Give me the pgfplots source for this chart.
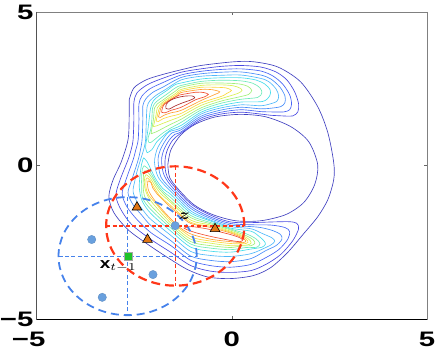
\documentclass[border=0pt]{standalone}
\usepackage{fontspec}
\setmainfont{Liberation Sans}
\usepackage{amsmath}
\usepackage{graphicx}
\usepackage{pgfplots}
\pgfplotsset{compat=1.18}

% contour colours, outer (low) to inner (high)
\definecolor{cA}{RGB}{64,64,192}
\definecolor{cB}{RGB}{72,72,224}
\definecolor{cC}{RGB}{70,100,245}
\definecolor{cD}{RGB}{70,140,250}
\definecolor{cE}{RGB}{80,185,250}
\definecolor{cF}{RGB}{70,220,235}
\definecolor{cG}{RGB}{110,235,185}
\definecolor{cH}{RGB}{160,240,120}
\definecolor{cI}{RGB}{215,240,80}
\definecolor{cJ}{RGB}{250,215,60}
\definecolor{cK}{RGB}{255,160,50}
\definecolor{cL}{RGB}{240,80,50}
\definecolor{cM}{RGB}{170,40,40}
\definecolor{dblue}{RGB}{70,130,235}
\definecolor{dred}{RGB}{255,55,25}
\definecolor{ball}{RGB}{105,160,222}
\definecolor{tri}{RGB}{225,118,20}
\definecolor{sq}{RGB}{30,195,40}

\pgfplotsset{ctr/.style={smooth,line width=0.65pt},
  xline/.style={line width=1.1pt,dash pattern=on 4pt off 2.5pt,forget plot}}
\newcommand{\tl}[1]{\scalebox{1.4}[1]{#1}}

\begin{document}
\begin{tikzpicture}
\begin{axis}[
  width=391pt,height=308pt,scale only axis,
  xmin=-5,xmax=5,ymin=-5,ymax=5,
  xtick={-5,0,5},ytick={-5,0,5},
  xticklabels={{\hspace*{-16pt}\tl{−5}},\tl{0},\tl{5}},
  yticklabels={\tl{−5},\tl{0},\tl{5}},
  ticklabel style={font=\fontsize{21}{21}\selectfont\bfseries,inner sep=0pt},
  xticklabel style={yshift=-12pt},
  yticklabel style={xshift=-3pt},
  tick align=inside,major tick length=3pt,
  tick style={black!60,line width=0.5pt},
  axis line style={black!50,line width=0.8pt},
]

% level 1: outer boundary and hole
\addplot[ctr,draw=cA] coordinates {(-2.63,2.14) (-2.51,2.53) (-2.20,2.79) (-1.82,2.95) (-1.30,3.12) (-0.79,3.26) (0.05,3.38) (0.56,3.38) (1.18,3.21) (1.76,2.73) (2.20,1.92) (2.46,1.07) (2.61,0.10) (2.61,-0.45) (2.46,-1.10) (2.20,-1.66) (1.82,-2.24) (1.43,-2.82) (1.00,-3.31) (0.56,-3.57) (-0.03,-3.67) (-0.61,-3.62) (-1.13,-3.38) (-1.64,-2.99) (-2.15,-2.56) (-2.66,-2.08) (-3.02,-1.53) (-3.15,-1.01) (-3.04,-0.45) (-2.84,0.10) (-2.66,0.84) (-2.63,1.59) (-2.63,2.14)};
\addplot[ctr,draw=cA] coordinates {(-1.64,0.03) (-1.56,0.52) (-1.30,1.01) (-0.92,1.36) (-0.41,1.59) (0.23,1.67) (0.87,1.59) (1.51,1.27) (1.97,0.78) (2.20,0.03) (2.12,-0.62) (1.84,-1.20) (1.38,-1.59) (0.74,-1.79) (0.10,-1.79) (-0.49,-1.59) (-0.97,-1.27) (-1.36,-0.78) (-1.59,-0.39) (-1.64,0.03)};

% levels 2-5: C shaped
\addplot[ctr,draw=cB] coordinates {(1.30,1.62) (1.56,1.62) (1.69,1.75) (1.71,2.01) (1.61,2.40) (1.41,2.79) (1.13,3.05) (0.74,3.21) (0.23,3.26) (-0.28,3.23) (-0.79,3.15) (-1.30,3.04) (-1.82,2.82) (-2.17,2.63) (-2.43,2.37) (-2.51,2.05) (-2.51,1.49) (-2.53,0.84) (-2.58,0.52) (-2.66,0.19) (-2.86,-0.45) (-2.97,-0.97) (-2.84,-1.43) (-2.56,-1.92) (-2.07,-2.40) (-1.56,-2.82) (-1.05,-3.25) (-0.54,-3.43) (-0.03,-3.47) (0.49,-3.41) (0.87,-3.21) (1.25,-2.89) (1.56,-2.44) (1.71,-2.05) (1.66,-1.87) (1.46,-1.82) (1.00,-1.83) (0.49,-1.85) (-0.03,-1.83) (-0.54,-1.61) (-1.05,-1.24) (-1.56,-0.55) (-1.69,-0.23) (-1.71,0.19) (-1.65,0.52) (-1.51,0.84) (-1.30,1.06) (-0.79,1.49) (-0.28,1.68) (0.23,1.74) (0.74,1.68) (1.00,1.64) (1.30,1.62)};
\addplot[ctr,draw=cC] coordinates {(1.00,1.75) (1.33,1.75) (1.48,1.82) (1.53,2.01) (1.48,2.31) (1.30,2.66) (1.05,2.92) (0.74,3.08) (0.23,3.15) (-0.28,3.13) (-0.79,3.07) (-1.30,2.95) (-1.79,2.69) (-2.10,2.50) (-2.30,2.27) (-2.38,2.01) (-2.38,1.49) (-2.40,0.84) (-2.46,0.52) (-2.53,0.19) (-2.71,-0.45) (-2.81,-0.91) (-2.69,-1.33) (-2.43,-1.75) (-2.07,-2.18) (-1.56,-2.60) (-1.05,-3.08) (-0.54,-3.25) (-0.03,-3.30) (0.49,-3.21) (0.87,-2.99) (1.20,-2.73) (1.43,-2.40) (1.48,-2.14) (1.36,-2.01) (1.00,-1.93) (0.49,-1.92) (-0.03,-1.88) (-0.54,-1.67) (-1.05,-1.32) (-1.56,-0.65) (-1.75,-0.26) (-1.80,0.19) (-1.74,0.52) (-1.60,0.84) (-1.46,1.02) (-1.30,1.10) (-0.79,1.55) (-0.28,1.74) (0.23,1.82) (0.74,1.76) (1.00,1.75)};
\addplot[ctr,draw=cD] coordinates {(1.00,1.87) (1.25,1.92) (1.36,2.05) (1.36,2.27) (1.23,2.56) (1.00,2.82) (0.74,2.95) (0.23,3.05) (-0.28,3.04) (-0.79,2.99) (-1.30,2.87) (-1.76,2.56) (-2.02,2.39) (-2.20,2.18) (-2.28,1.95) (-2.28,1.49) (-2.30,0.84) (-2.34,0.52) (-2.40,0.19) (-2.56,-0.45) (-2.66,-0.88) (-2.53,-1.27) (-2.30,-1.62) (-2.07,-1.95) (-1.56,-2.44) (-1.05,-2.94) (-0.54,-3.08) (-0.03,-3.12) (0.49,-3.02) (0.87,-2.76) (1.13,-2.60) (1.28,-2.40) (1.25,-2.24) (1.05,-2.11) (0.74,-2.01) (0.49,-1.98) (-0.03,-1.93) (-0.54,-1.72) (-1.05,-1.39) (-1.56,-0.75) (-1.82,-0.36) (-1.89,0.19) (-1.83,0.52) (-1.69,0.84) (-1.53,1.07) (-1.30,1.17) (-0.79,1.61) (-0.28,1.81) (0.23,1.90) (0.74,1.85) (1.00,1.87)};
\addplot[ctr,draw=cE] coordinates {(0.95,2.00) (1.15,2.09) (1.20,2.27) (1.13,2.50) (0.95,2.73) (0.74,2.84) (0.23,2.95) (-0.28,2.94) (-0.79,2.91) (-1.30,2.79) (-1.71,2.47) (-1.94,2.29) (-2.10,2.11) (-2.17,1.92) (-2.19,1.49) (-2.21,0.84) (-2.26,0.52) (-2.34,0.19) (-2.43,-0.19) (-2.49,-0.52) (-2.53,-0.84) (-2.43,-1.17) (-2.25,-1.49) (-2.07,-1.75) (-1.56,-2.27) (-1.05,-2.79) (-0.54,-2.92) (-0.03,-2.95) (0.49,-2.86) (0.87,-2.66) (1.02,-2.56) (1.10,-2.45) (1.02,-2.34) (0.79,-2.21) (0.49,-2.05) (-0.03,-1.98) (-0.54,-1.77) (-1.05,-1.47) (-1.56,-0.84) (-1.88,-0.39) (-1.98,0.10) (-1.92,0.52) (-1.78,0.84) (-1.61,1.10) (-1.30,1.23) (-0.79,1.68) (-0.28,1.88) (0.23,1.98) (0.74,1.95) (0.95,2.00)};

% upper mode, levels 6-13
\addplot[ctr,draw=cF] coordinates {(-2.17,0.42) (-2.21,0.58) (-2.19,0.81) (-2.15,1.17) (-2.12,1.49) (-2.08,1.88) (-2.01,2.11) (-1.87,2.27) (-1.66,2.45) (-1.46,2.63) (-1.30,2.69) (-0.79,2.82) (-0.28,2.86) (0.23,2.86) (0.61,2.79) (0.84,2.66) (0.98,2.47) (0.97,2.27) (0.79,2.09) (0.23,2.07) (-0.28,1.95) (-0.79,1.74) (-1.30,1.31) (-1.56,1.17) (-1.76,0.97) (-1.92,0.78) (-2.05,0.52) (-2.17,0.42)};
\addplot[ctr,draw=cG] coordinates {(-2.12,0.75) (-2.15,0.88) (-2.08,1.17) (-2.05,1.49) (-2.03,1.88) (-1.96,2.05) (-1.82,2.19) (-1.64,2.35) (-1.46,2.52) (-1.30,2.61) (-0.79,2.74) (-0.28,2.78) (0.23,2.76) (0.54,2.68) (0.72,2.53) (0.77,2.37) (0.66,2.22) (0.23,2.16) (-0.28,2.03) (-0.79,1.81) (-1.30,1.41) (-1.56,1.23) (-1.76,1.07) (-1.94,0.89) (-2.07,0.76) (-2.12,0.75)};
\addplot[ctr,draw=cH] coordinates {(-2.07,1.04) (-2.05,1.20) (-2.01,1.49) (-1.98,1.88) (-1.91,2.01) (-1.76,2.14) (-1.60,2.29) (-1.43,2.44) (-1.30,2.55) (-0.79,2.68) (-0.28,2.69) (0.18,2.66) (0.41,2.58) (0.51,2.45) (0.43,2.32) (0.23,2.25) (-0.28,2.10) (-0.79,1.88) (-1.30,1.51) (-1.56,1.35) (-1.76,1.22) (-1.94,1.10) (-2.07,1.04)};
\addplot[ctr,draw=cI] coordinates {(-2.01,1.27) (-1.98,1.43) (-1.94,1.66) (-1.91,1.88) (-1.85,1.98) (-1.73,2.11) (-1.57,2.24) (-1.42,2.37) (-1.30,2.48) (-0.79,2.61) (-0.28,2.63) (0.03,2.60) (0.20,2.53) (0.26,2.45) (0.15,2.35) (-0.28,2.18) (-0.79,1.96) (-1.30,1.61) (-1.56,1.48) (-1.76,1.38) (-1.92,1.30) (-2.01,1.27)};
\addplot[ctr,draw=cJ] coordinates {(-1.94,1.46) (-1.91,1.62) (-1.87,1.82) (-1.80,1.98) (-1.69,2.09) (-1.55,2.21) (-1.41,2.32) (-1.30,2.43) (-0.79,2.55) (-0.41,2.55) (-0.15,2.53) (-0.01,2.45) (-0.13,2.35) (-0.28,2.25) (-0.79,2.04) (-1.30,1.70) (-1.56,1.61) (-1.76,1.53) (-1.88,1.44) (-1.94,1.46)};
\addplot[ctr,draw=cK] coordinates {(-1.88,1.59) (-1.85,1.72) (-1.82,1.87) (-1.76,1.98) (-1.65,2.09) (-1.52,2.19) (-1.39,2.29) (-1.30,2.38) (-0.79,2.48) (-0.49,2.47) (-0.31,2.40) (-0.43,2.32) (-0.79,2.12) (-1.30,1.80) (-1.56,1.72) (-1.74,1.64) (-1.83,1.57) (-1.88,1.59)};
\addplot[ctr,draw=cL] coordinates {(-1.80,1.74) (-1.78,1.87) (-1.73,2.00) (-1.61,2.11) (-1.48,2.21) (-1.37,2.28) (-1.30,2.31) (-0.92,2.39) (-0.72,2.38) (-0.60,2.32) (-0.72,2.23) (-0.92,2.15) (-1.30,1.90) (-1.56,1.80) (-1.71,1.72) (-1.80,1.74)};
\addplot[ctr,draw=cM] coordinates {(-1.69,1.87) (-1.68,2.00) (-1.57,2.13) (-1.41,2.21) (-1.23,2.26) (-1.02,2.27) (-0.95,2.21) (-1.05,2.14) (-1.25,2.05) (-1.46,1.94) (-1.61,1.84) (-1.69,1.87)};

% lower mode, levels 6-12
\addplot[ctr,draw=cF] coordinates {(-2.26,0.26) (-2.17,0.13) (-2.07,-0.13) (-1.94,-0.45) (-1.76,-0.75) (-1.56,-0.94) (-1.05,-1.54) (-0.54,-1.80) (-0.03,-2.03) (0.49,-2.13) (0.69,-2.29) (0.82,-2.44) (0.86,-2.55) (0.77,-2.65) (0.49,-2.71) (-0.03,-2.81) (-0.54,-2.78) (-1.05,-2.65) (-1.56,-2.13) (-2.07,-1.56) (-2.30,-1.14) (-2.37,-0.71) (-2.35,-0.29) (-2.31,0.06) (-2.26,0.26)};
\addplot[ctr,draw=cG] coordinates {(-2.25,0.00) (-2.16,-0.08) (-2.05,-0.29) (-1.92,-0.58) (-1.74,-0.86) (-1.56,-1.04) (-1.05,-1.62) (-0.54,-1.85) (-0.03,-2.06) (0.36,-2.21) (0.61,-2.37) (0.72,-2.53) (0.64,-2.65) (0.36,-2.66) (-0.03,-2.73) (-0.54,-2.68) (-1.05,-2.55) (-1.56,-2.03) (-2.07,-1.43) (-2.28,-1.07) (-2.31,-0.71) (-2.31,-0.32) (-2.29,-0.10) (-2.25,0.00)};
\addplot[ctr,draw=cH] coordinates {(-2.23,-0.16) (-2.14,-0.23) (-2.03,-0.42) (-1.89,-0.71) (-1.71,-0.96) (-1.56,-1.14) (-1.05,-1.69) (-0.54,-1.89) (-0.03,-2.09) (0.36,-2.27) (0.54,-2.40) (0.59,-2.52) (0.49,-2.60) (0.23,-2.61) (-0.03,-2.66) (-0.54,-2.60) (-1.05,-2.47) (-1.56,-1.95) (-2.07,-1.30) (-2.23,-1.01) (-2.27,-0.71) (-2.27,-0.45) (-2.26,-0.29) (-2.23,-0.16)};
\addplot[ctr,draw=cI] coordinates {(-2.20,-0.29) (-2.11,-0.37) (-2.03,-0.52) (-1.94,-0.71) (-1.82,-0.91) (-1.66,-1.09) (-1.56,-1.20) (-1.05,-1.77) (-0.54,-1.93) (-0.03,-2.13) (0.31,-2.29) (0.46,-2.42) (0.49,-2.52) (0.38,-2.58) (-0.03,-2.60) (-0.54,-2.52) (-1.05,-2.39) (-1.56,-1.87) (-2.02,-1.23) (-2.16,-0.97) (-2.23,-0.71) (-2.24,-0.49) (-2.23,-0.37) (-2.20,-0.29)};
\addplot[ctr,draw=cJ] coordinates {(-2.17,-0.39) (-2.10,-0.47) (-1.99,-0.71) (-1.87,-0.94) (-1.71,-1.14) (-1.56,-1.30) (-1.05,-1.84) (-0.54,-1.97) (-0.03,-2.16) (0.28,-2.31) (0.41,-2.45) (0.36,-2.53) (-0.03,-2.53) (-0.54,-2.45) (-1.05,-2.31) (-1.56,-1.79) (-1.99,-1.17) (-2.14,-0.94) (-2.20,-0.71) (-2.20,-0.52) (-2.20,-0.44) (-2.17,-0.39)};
\addplot[ctr,draw=cK] coordinates {(-2.15,-0.49) (-2.07,-0.55) (-2.03,-0.71) (-1.92,-0.91) (-1.76,-1.12) (-1.56,-1.36) (-1.30,-1.64) (-1.05,-1.88) (-0.54,-2.01) (-0.03,-2.19) (0.26,-2.34) (0.36,-2.45) (0.28,-2.50) (-0.03,-2.47) (-0.54,-2.39) (-1.05,-2.22) (-1.36,-1.98) (-1.69,-1.56) (-1.94,-1.19) (-2.08,-0.94) (-2.14,-0.78) (-2.16,-0.62) (-2.15,-0.49)};
\addplot[ctr,draw=cL] coordinates {(-1.23,-2.03) (-1.05,-1.98) (-0.79,-2.02) (-0.54,-2.08) (-0.03,-2.24) (0.20,-2.34) (0.28,-2.42) (0.20,-2.47) (-0.03,-2.43) (-0.54,-2.30) (-0.92,-2.18) (-1.13,-2.09) (-1.23,-2.03)};

% neighbourhoods
\draw[dblue,line width=1.8pt,dash pattern=on 8pt off 5pt] (axis cs:-2.67,-2.94) ellipse [x radius=1.77,y radius=1.92];
\addplot[xline,draw=dblue] coordinates {(-4.44,-2.94) (-0.90,-2.94)};
\addplot[xline,draw=dblue] coordinates {(-2.67,-1.02) (-2.67,-4.86)};
\draw[dred,line width=2.2pt,dash pattern=on 9pt off 5pt] (axis cs:-1.45,-1.96) ellipse [x radius=1.77,y radius=1.94];
\addplot[xline,draw=dred] coordinates {(-3.22,-1.96) (0.32,-1.96)};
\addplot[xline,draw=dred] coordinates {(-1.45,-0.02) (-1.45,-3.90)};

% samples
\addplot[only marks,mark=*,mark size=4.2pt,mark options={fill=ball,draw=ball!85!black,line width=0.3pt}]
  coordinates {(-3.59,-2.40) (-1.45,-1.95) (-2.02,-3.54) (-3.32,-4.28)};
\addplot[only marks,mark=triangle*,mark size=5.6pt,mark options={fill=tri,draw=black,line width=0.6pt}]
  coordinates {(-2.43,-1.35) (-2.16,-2.40) (-0.43,-2.05)};
\addplot[only marks,mark=square*,mark size=4pt,mark options={fill=sq,draw=black!35,line width=0.5pt}]
  coordinates {(-2.66,-2.94)};

\node[xscale=1.9,yscale=1.5] at (axis cs:-1.22,-1.63) {$\boldsymbol{z}$};
\node[xscale=1.9,yscale=1.5] at (axis cs:-2.91,-3.27) {$\mathbf{x}_{t-1}$};

\draw[black,line width=0.8pt] (rel axis cs:0,1) -- (rel axis cs:0,0) -- (rel axis cs:1,0);
\end{axis}
\path ([shift={(-36pt,-32pt)}]current axis.south west) rectangle ([shift={(9pt,12pt)}]current axis.north east);
\end{tikzpicture}
\end{document}
